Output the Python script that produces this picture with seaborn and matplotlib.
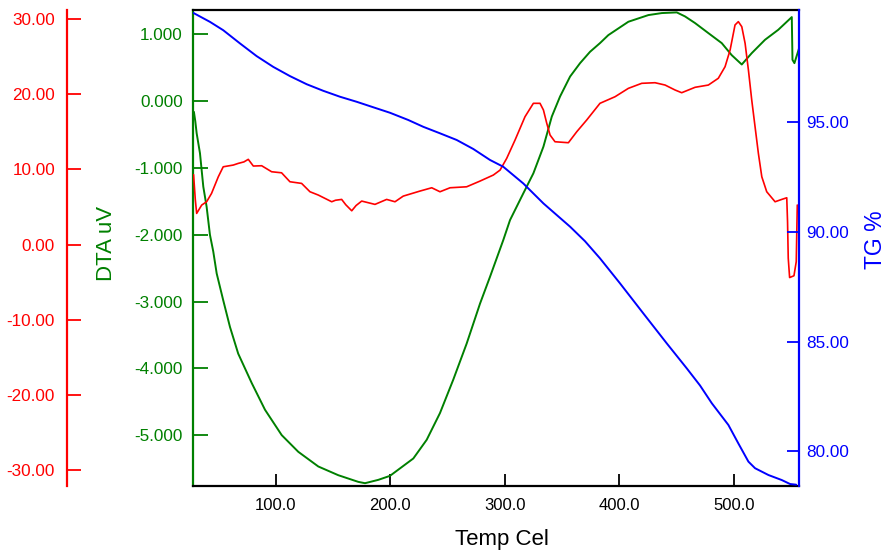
import matplotlib
matplotlib.use("Agg")
import matplotlib.pyplot as plt
import seaborn as sns
from matplotlib.ticker import FormatStrFormatter

# TG curve (blue, right axis)
tg_temp = [27.7, 42.3, 53.9, 68.5, 83.1, 97.6, 112.2, 126.8, 141.3, 155.9,
           170.5, 185.0, 199.6, 215.6, 228.7, 243.0, 257.9, 272.4, 287.0, 298.6,
           316.1, 333.7, 357.0, 370.0, 383.1, 400.6, 421.0, 441.4, 458.9, 470.5,
           480.8, 495.3, 504.0, 512.8, 518.6, 530.3, 542.0, 549.2, 554.5]
tg_pct = [99.97, 99.56, 99.18, 98.58, 98.00, 97.51, 97.09, 96.72, 96.42, 96.15,
          95.92, 95.67, 95.42, 95.09, 94.78, 94.49, 94.18, 93.77, 93.27, 92.96,
          92.20, 91.29, 90.23, 89.57, 88.79, 87.65, 86.28, 84.92, 83.78, 83.00,
          82.19, 81.20, 80.36, 79.53, 79.23, 78.92, 78.69, 78.51, 78.48]

# DTA curve (green, main left axis)
dta_temp = [28.3, 29.5, 30.7, 33.6, 36.5, 39.4, 42.3, 45.2, 48.2, 53.9,
            59.8, 67.0, 78.8, 90.4, 105.0, 119.5, 137.0, 154.4, 171.9, 177.8,
            189.4, 199.6, 220.0, 231.7, 243.3, 254.9, 266.6, 278.3, 287.0, 298.6,
            304.5, 316.1, 324.9, 333.7, 341.0, 348.2, 357.0, 365.7, 374.4, 383.1,
            390.4, 407.9, 425.4, 437.1, 450.2, 457.4, 466.2, 477.8, 489.5, 498.2,
            507.0, 515.7, 527.3, 538.9, 550.7, 551.3, 553.0, 557.0]
dta_uv = [-0.16, -0.30, -0.48, -0.78, -1.28, -1.58, -2.00, -2.25, -2.58, -2.98,
          -3.38, -3.78, -4.22, -4.62, -5.00, -5.25, -5.47, -5.60, -5.70, -5.72,
          -5.67, -5.61, -5.35, -5.07, -4.67, -4.17, -3.63, -3.03, -2.63, -2.08,
          -1.78, -1.38, -1.08, -0.68, -0.23, 0.07, 0.37, 0.57, 0.74, 0.87,
          0.99, 1.19, 1.29, 1.32, 1.33, 1.27, 1.17, 1.02, 0.87, 0.69,
          0.55, 0.72, 0.92, 1.07, 1.26, 0.62, 0.57, 0.79]

# derivative curve (red, outer left axis)
dtg_temp = [28.0, 29.5, 30.7, 35.1, 39.4, 43.7, 49.6, 53.9, 62.7, 67.0,
            72.0, 75.8, 80.2, 87.5, 96.2, 104.9, 112.2, 122.4, 129.7, 137.0,
            148.7, 152.0, 157.4, 161.0, 166.2, 170.0, 174.9, 186.5, 196.7, 204.0,
            211.2, 225.8, 236.1, 243.3, 252.1, 266.6, 278.3, 289.9, 295.8, 301.6,
            308.9, 317.6, 324.9, 330.7, 333.7, 336.6, 339.5, 343.8, 355.5, 362.8,
            371.5, 383.1, 396.3, 407.9, 419.6, 431.2, 440.0, 448.7, 454.5, 466.2,
            477.8, 486.5, 492.4, 496.8, 501.1, 504.0, 507.0, 509.9, 512.8, 515.7,
            518.6, 521.5, 524.5, 528.8, 536.1, 541.9, 546.3, 547.0, 547.6, 548.8,
            552.6, 554.6, 555.5]
dtg_val = [9.30, 6.00, 4.15, 5.26, 5.70, 6.81, 9.02, 10.35, 10.58, 10.80,
           11.00, 11.34, 10.45, 10.49, 9.69, 9.55, 8.36, 8.14, 7.03, 6.59,
           5.70, 5.90, 6.01, 5.30, 4.50, 5.20, 5.79, 5.35, 6.01, 5.70,
           6.45, 7.12, 7.56, 7.03, 7.56, 7.69, 8.45, 9.25, 9.91, 11.47,
           13.91, 17.01, 18.79, 18.79, 17.90, 16.13, 14.57, 13.68, 13.55, 15.01,
           16.57, 18.79, 19.67, 20.78, 21.45, 21.53, 21.22, 20.56, 20.20, 20.92,
           21.22, 22.12, 23.66, 25.88, 29.21, 29.65, 28.98, 26.77, 23.22, 19.23,
           15.68, 12.14, 9.02, 7.03, 5.70, 6.01, 6.23, 3.00, -1.80, -4.38,
           -4.14, -2.26, 5.26]

x_ticks = [100, 200, 300, 400, 500]
dta_ticks = [-5, -4, -3, -2, -1, 0, 1]
dtg_ticks = [-30, -20, -10, 0, 10, 20, 30]
tg_ticks = [80, 85, 90, 95]

GREEN = "#008000"
RED = "#ff0000"
BLUE = "#0000ff"

sns.set_style("white")
plt.rcParams['font.family'] = ['Liberation Sans', 'DejaVu Sans']

fig = plt.figure(figsize=(8.92, 5.54), dpi=100)
ax = fig.add_axes([193 / 892, 1 - 486 / 554, 606 / 892, 476 / 554])
ax_r = ax.twinx()
ax_b = ax.twinx()

sns.lineplot(x=tg_temp, y=tg_pct, ax=ax_b, color=BLUE, lw=1.4, sort=False, estimator=None)
sns.lineplot(x=dta_temp, y=dta_uv, ax=ax, color=GREEN, lw=1.4, sort=False, estimator=None)
sns.lineplot(x=dtg_temp, y=dtg_val, ax=ax_r, color=RED, lw=1.2, sort=False, estimator=None)

ax.set_xlim(27.5, 557.0)
ax.set_ylim(-5.762, 1.366)
ax_r.set_ylim(-32.1, 31.2)
ax_b.set_ylim(78.42, 100.1)

# main axis: green DTA on the left, black frame top/bottom
ax.set_xticks(x_ticks)
ax.xaxis.set_major_formatter(FormatStrFormatter('%.1f'))
ax.set_yticks(dta_ticks)
ax.yaxis.set_major_formatter(FormatStrFormatter('%.3f'))
ax.xaxis.set_ticks_position('bottom')
ax.yaxis.set_ticks_position('left')
ax.tick_params(axis='x', direction='in', length=8.6, width=1.3, colors='black',
               labelsize=12, pad=9)
ax.tick_params(axis='y', direction='in', length=10.5, width=1.3, colors=GREEN,
               labelsize=12.3, pad=7.4)
for side in ['top', 'bottom']:
    ax.spines[side].set_color('black')
    ax.spines[side].set_linewidth(1.6)
ax.spines['left'].set_color(GREEN)
ax.spines['left'].set_linewidth(1.6)
ax.spines['right'].set_visible(False)

# red axis moved out to the left
ax_r.yaxis.set_ticks_position('left')
ax_r.spines['left'].set_visible(True)
ax_r.spines['left'].set_position(('axes', -0.2084))
ax_r.spines['left'].set_color(RED)
ax_r.spines['left'].set_linewidth(1.6)
for side in ['right', 'top', 'bottom']:
    ax_r.spines[side].set_visible(False)
ax_r.set_yticks(dtg_ticks)
ax_r.yaxis.set_major_formatter(FormatStrFormatter('%.2f'))
ax_r.tick_params(axis='y', direction='in', length=10.3, width=1.3, colors=RED,
                 labelsize=12.3, pad=8.4)

# blue TG axis on the right
for side in ['left', 'top', 'bottom']:
    ax_b.spines[side].set_visible(False)
ax_b.spines['right'].set_color(BLUE)
ax_b.spines['right'].set_linewidth(1.6)
ax_b.set_yticks(tg_ticks)
ax_b.yaxis.set_major_formatter(FormatStrFormatter('%.2f'))
ax_b.tick_params(axis='y', direction='in', length=8.9, width=1.3, colors=BLUE,
                 labelsize=12.3, pad=5.5)

for a in [ax, ax_r, ax_b]:
    a.set_xlabel('')
    a.set_ylabel('')
    a.grid(False)

fig.text(106 / 892, 1 - 243 / 554, 'DTA uV', color=GREEN, fontsize=16,
         rotation=90, ha='center', va='center')
fig.text(876 / 892, 1 - 240 / 554, 'TG %', color=BLUE, fontsize=16.5,
         rotation=90, ha='center', va='center')
fig.text(502 / 892, 1 - 539 / 554, 'Temp Cel', color='black', fontsize=16,
         ha='center', va='center')

fig.savefig('out.png', dpi=100)
